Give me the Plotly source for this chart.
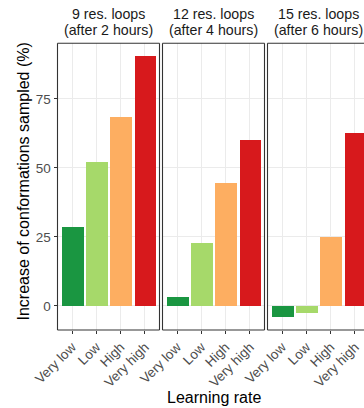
import plotly.graph_objects as go

categories = ["Very low", "Low", "High", "Very high"]
panel_titles = [("9 res. loops", "(after 2 hours)"),
                ("12 res. loops", "(after 4 hours)"),
                ("15 res. loops", "(after 6 hours)")]
values_9 = [28.6, 52.1, 68.3, 90.4]
values_12 = [3.0, 22.6, 44.5, 60.1]
values_15 = [-4.0, -2.5, 24.8, 62.7]
colors = ["#1A9641", "#A6D96A", "#FDAE61", "#D7191C"]
y_ticks = [0, 25, 50, 75]

W, H = 364, 408
FONT = "Liberation Sans, Arial, sans-serif"

# panel pixel extents
panels_px = [(57.5, 159.5), (162.5, 264.5), (267.5, 369.5)]
top_px, bot_px = 43.3, 330.0
unit_px = (panels_px[0][1] - panels_px[0][0]) / 4.2

all_vals = values_9 + values_12 + values_15
lo, hi = min(all_vals), max(all_vals)
pad = 0.05 * (hi - lo)
yrange = [lo - pad, hi + pad]

fig = go.Figure()
series = [values_9, values_12, values_15]
shapes = []
annotations = []
for i, (vals, (x0, x1)) in enumerate(zip(series, panels_px)):
    xa = "x" if i == 0 else f"x{i+1}"
    ya = "y" if i == 0 else f"y{i+1}"
    fig.add_trace(go.Bar(x=categories, y=vals, marker=dict(color=colors, line=dict(width=0)),
                         width=0.9, xaxis=xa, yaxis=ya, showlegend=False))
    x1c = min(x1, W)
    xr = [-0.6, -0.6 + (x1c - x0) / unit_px]
    key = "xaxis" if i == 0 else f"xaxis{i+1}"
    ykey = "yaxis" if i == 0 else f"yaxis{i+1}"
    fig.layout[key] = dict(domain=[x0 / W, x1c / W], range=xr, anchor=ya, automargin=False,
                           type="category", categoryorder="array", categoryarray=categories,
                           showgrid=True, gridcolor="#EBEBEB", gridwidth=1.1,
                           ticks="outside", ticklen=3, tickcolor="#333333", tickwidth=1.1,
                           tickangle=-45, tickfont=dict(family=FONT, size=13.5, color="#4D4D4D"),
                           showline=False, zeroline=False, fixedrange=True)
    fig.layout[ykey] = dict(domain=[1 - bot_px / H, 1 - top_px / H], range=yrange, anchor=xa,
                            automargin=False,
                            tickvals=y_ticks, showgrid=True, gridcolor="#EBEBEB", gridwidth=1.1,
                            zeroline=False, showline=False,
                            ticks="outside" if i == 0 else "", ticklen=3, tickcolor="#333333",
                            tickwidth=1.1, showticklabels=(i == 0),
                            tickfont=dict(family=FONT, size=13.5, color="#4D4D4D"))
    # border
    lc = dict(color="#333333", width=1.1)
    xd = xa + " domain"
    yd = ya + " domain"
    shapes.append(dict(type="line", xref=xd, yref=yd, x0=0, x1=0, y0=0, y1=1, line=lc))
    shapes.append(dict(type="line", xref=xd, yref=yd, x0=0, x1=1, y0=0, y1=0, line=lc))
    shapes.append(dict(type="line", xref=xd, yref=yd, x0=0, x1=1, y0=1, y1=1, line=lc))
    if x1 <= W:
        shapes.append(dict(type="line", xref=xd, yref=yd, x0=1, x1=1, y0=0, y1=1, line=lc))
    cx = (x0 + x1) / 2 / W
    t1, t2 = panel_titles[i]
    annotations.append(dict(text=t1, x=cx, y=1 - 14.5 / H, xref="paper", yref="paper",
                            xanchor="center", yanchor="middle", showarrow=False,
                            font=dict(family=FONT, size=14.2, color="#1A1A1A")))
    annotations.append(dict(text=t2, x=cx, y=1 - 30 / H, xref="paper", yref="paper",
                            xanchor="center", yanchor="middle", showarrow=False,
                            font=dict(family=FONT, size=14.2, color="#1A1A1A")))

annotations.append(dict(text="Increase of conformations sampled (%)", x=22.5 / W,
                        y=1 - 182 / H, xref="paper", yref="paper",
                        textangle=-90, xanchor="center", yanchor="middle", showarrow=False,
                        font=dict(family=FONT, size=16, color="#000000")))
annotations.append(dict(text="Learning rate", x=(panels_px[0][0] + panels_px[2][1]) / 2 / W,
                        y=1 - 397.5 / H, xref="paper", yref="paper",
                        xanchor="center", yanchor="middle", showarrow=False,
                        font=dict(family=FONT, size=16, color="#000000")))

fig.update_layout(width=W, height=H, margin=dict(l=0, r=0, t=0, b=0, autoexpand=False),
                  paper_bgcolor="white", plot_bgcolor="white",
                  shapes=shapes, annotations=annotations, bargap=0)
fig.write_html("out.html", config={"displayModeBar": False})
